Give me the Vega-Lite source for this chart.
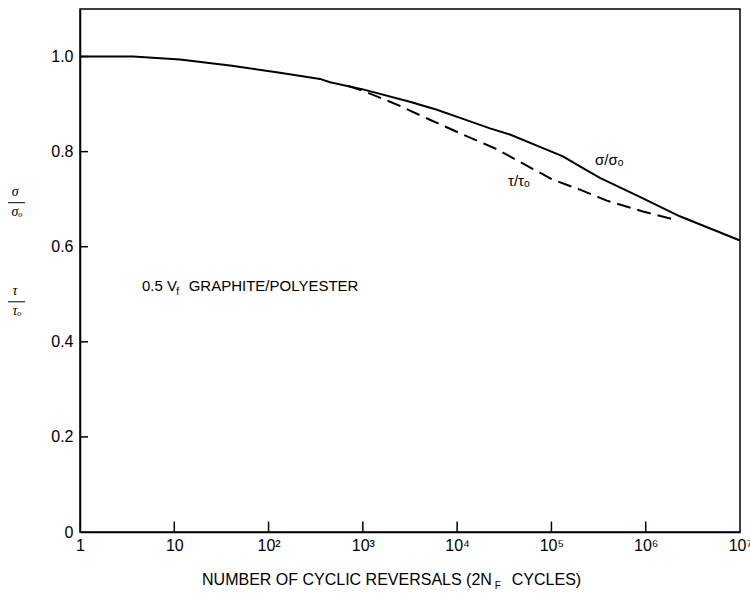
{
  "$schema": "https://vega.github.io/schema/vega-lite/v6.json",
  "width": 660,
  "height": 523,
  "autosize": {"type": "none"},
  "padding": {"left": 80, "top": 9, "right": 10, "bottom": 66},
  "background": "white",
  "config": {
    "view": {"stroke": "black", "strokeWidth": 1.5},
    "font": "Liberation Sans",
    "axis": {
      "grid": false,
      "ticks": false,
      "domainColor": "black",
      "domainWidth": 1.5,
      "labelColor": "black",
      "labelFont": "Liberation Sans",
      "labelFontSize": 16,
      "labelFlush": false,
      "labelOverlap": false,
      "labelBound": false
    }
  },
  "datasets": {
    "curves": [
      {"series": "sigma", "cycles": 1, "ratio": 1.0},
      {"series": "sigma", "cycles": 3.65, "ratio": 1.0},
      {"series": "sigma", "cycles": 11.5, "ratio": 0.994},
      {"series": "sigma", "cycles": 39, "ratio": 0.981},
      {"series": "sigma", "cycles": 132, "ratio": 0.966},
      {"series": "sigma", "cycles": 351, "ratio": 0.953},
      {"series": "sigma", "cycles": 448, "ratio": 0.946},
      {"series": "sigma", "cycles": 1003, "ratio": 0.931},
      {"series": "sigma", "cycles": 3150, "ratio": 0.905},
      {"series": "sigma", "cycles": 6100, "ratio": 0.888},
      {"series": "sigma", "cycles": 11520, "ratio": 0.869},
      {"series": "sigma", "cycles": 22300, "ratio": 0.849},
      {"series": "sigma", "cycles": 36300, "ratio": 0.836},
      {"series": "sigma", "cycles": 75500, "ratio": 0.81},
      {"series": "sigma", "cycles": 132400, "ratio": 0.79},
      {"series": "sigma", "cycles": 200600, "ratio": 0.769},
      {"series": "sigma", "cycles": 326800, "ratio": 0.745},
      {"series": "sigma", "cycles": 867500, "ratio": 0.705},
      {"series": "sigma", "cycles": 2300000, "ratio": 0.664},
      {"series": "sigma", "cycles": 10000000, "ratio": 0.613},
      {"series": "tau", "cycles": 700, "ratio": 0.938},
      {"series": "tau", "cycles": 1003, "ratio": 0.928},
      {"series": "tau", "cycles": 2300, "ratio": 0.899},
      {"series": "tau", "cycles": 5140, "ratio": 0.867},
      {"series": "tau", "cycles": 11520, "ratio": 0.836},
      {"series": "tau", "cycles": 26400, "ratio": 0.805},
      {"series": "tau", "cycles": 59100, "ratio": 0.767},
      {"series": "tau", "cycles": 75500, "ratio": 0.756},
      {"series": "tau", "cycles": 103800, "ratio": 0.741},
      {"series": "tau", "cycles": 200600, "ratio": 0.72},
      {"series": "tau", "cycles": 388000, "ratio": 0.697},
      {"series": "tau", "cycles": 934000, "ratio": 0.674},
      {"series": "tau", "cycles": 2200000, "ratio": 0.655}
    ],
    "notes": [
      {"key": "ann", "cycles": 4.54, "ratio": 0.518, "text": "0.5 V"},
      {"key": "ann", "cycles": 14.2, "ratio": 0.518, "text": "GRAPHITE/POLYESTER"},
      {"key": "ann", "cycles": 290000, "ratio": 0.783, "text": "σ/σₒ"},
      {"key": "ann", "cycles": 34600, "ratio": 0.739, "text": "τ/τₒ"},
      {"key": "title", "cycles": 19.7, "ratio": -0.101, "text": "NUMBER OF CYCLIC REVERSALS (2N"},
      {"key": "title", "cycles": 38000, "ratio": -0.101, "text": "CYCLES)"},
      {"key": "sub", "cycles": 10.5, "ratio": 0.505, "text": "f"},
      {"key": "sub", "cycles": 25000, "ratio": -0.113, "text": "F"},
      {"key": "frac", "cycles": 0.205, "ratio": 0.716, "text": "σ"},
      {"key": "frac", "cycles": 0.215, "ratio": 0.672, "text": "σₒ"},
      {"key": "frac", "cycles": 0.205, "ratio": 0.507, "text": "τ"},
      {"key": "frac", "cycles": 0.215, "ratio": 0.465, "text": "τₒ"}
    ],
    "bars": [
      {"cycles": 0.1725, "cycles2": 0.261, "ratio": 0.6926},
      {"cycles": 0.1725, "cycles2": 0.261, "ratio": 0.4842}
    ],
    "xticks": [
      {"cycles": 10, "lo": 0, "hi": 0.022},
      {"cycles": 100, "lo": 0, "hi": 0.022},
      {"cycles": 1000, "lo": 0, "hi": 0.022},
      {"cycles": 10000, "lo": 0, "hi": 0.022},
      {"cycles": 100000, "lo": 0, "hi": 0.022},
      {"cycles": 1000000, "lo": 0, "hi": 0.022}
    ],
    "yticks": [
      {"ratio": 0.2, "lo": 1, "hi": 1.216},
      {"ratio": 0.4, "lo": 1, "hi": 1.216},
      {"ratio": 0.6, "lo": 1, "hi": 1.216},
      {"ratio": 0.8, "lo": 1, "hi": 1.216},
      {"ratio": 1.0, "lo": 1, "hi": 1.216}
    ]
  },
  "layer": [
    {
      "data": {"name": "curves"},
      "transform": [{"filter": "datum.series === 'sigma'"}],
      "mark": {"type": "line", "color": "black", "strokeWidth": 2},
      "encoding": {
        "x": {
          "field": "cycles", "type": "quantitative",
          "scale": {"type": "log", "domain": [1, 10000000], "nice": false},
          "axis": {
            "title": null,
            "values": [1, 10, 100, 1000, 10000, 100000, 1000000, 10000000],
            "labelPadding": 5,
            "labelExpr": "datum.value < 5 ? '1' : datum.value < 50 ? '10' : '10' + (datum.value < 500 ? '²' : datum.value < 5000 ? '³' : datum.value < 50000 ? '⁴' : datum.value < 500000 ? '⁵' : datum.value < 5000000 ? '⁶' : '⁷')"
          }
        },
        "y": {
          "field": "ratio", "type": "quantitative",
          "scale": {"domain": [0, 1.1], "nice": false, "zero": false},
          "axis": {
            "title": null,
            "values": [0, 0.2, 0.4, 0.6, 0.8, 1.0],
            "labelPadding": 7,
            "labelExpr": "datum.value == 0 ? '0' : format(datum.value, '.1f')"
          }
        }
      }
    },
    {
      "data": {"name": "curves"},
      "transform": [{"filter": "datum.series === 'tau'"}],
      "mark": {"type": "line", "color": "black", "strokeWidth": 2, "strokeDash": [14, 7]},
      "encoding": {
        "x": {"field": "cycles", "type": "quantitative", "scale": {"type": "log", "domain": [1, 10000000], "nice": false}},
        "y": {"field": "ratio", "type": "quantitative", "scale": {"domain": [0, 1.1], "nice": false, "zero": false}}
      }
    },
    {
      "data": {"name": "xticks"},
      "mark": {"type": "rule", "color": "black", "strokeWidth": 1.5},
      "encoding": {
        "x": {"field": "cycles", "type": "quantitative", "scale": {"type": "log", "domain": [1, 10000000], "nice": false}},
        "y": {"field": "lo", "type": "quantitative", "scale": {"domain": [0, 1.1], "nice": false, "zero": false}},
        "y2": {"field": "hi"}
      }
    },
    {
      "data": {"name": "yticks"},
      "mark": {"type": "rule", "color": "black", "strokeWidth": 1.5},
      "encoding": {
        "x": {"field": "lo", "type": "quantitative", "scale": {"type": "log", "domain": [1, 10000000], "nice": false}},
        "x2": {"field": "hi"},
        "y": {"field": "ratio", "type": "quantitative", "scale": {"domain": [0, 1.1], "nice": false, "zero": false}}
      }
    },
    {
      "data": {"name": "bars"},
      "mark": {"type": "rule", "color": "black", "strokeWidth": 1},
      "encoding": {
        "x": {"field": "cycles", "type": "quantitative", "scale": {"type": "log", "domain": [1, 10000000], "nice": false}},
        "x2": {"field": "cycles2"},
        "y": {"field": "ratio", "type": "quantitative", "scale": {"domain": [0, 1.1], "nice": false, "zero": false}}
      }
    },
    {
      "data": {"name": "notes"},
      "transform": [{"filter": "datum.key === 'frac'"}],
      "mark": {"type": "text", "align": "center", "baseline": "middle", "fontSize": 14, "color": "black", "font": "Liberation Serif", "fontStyle": "italic"},
      "encoding": {
        "x": {"field": "cycles", "type": "quantitative", "scale": {"type": "log", "domain": [1, 10000000], "nice": false}},
        "y": {"field": "ratio", "type": "quantitative", "scale": {"domain": [0, 1.1], "nice": false, "zero": false}},
        "text": {"field": "text"}
      }
    },
    {
      "data": {"name": "notes"},
      "transform": [{"filter": "datum.key === 'ann'"}],
      "mark": {"type": "text", "align": "left", "baseline": "middle", "fontSize": 15, "color": "black", "font": "Liberation Sans"},
      "encoding": {
        "x": {"field": "cycles", "type": "quantitative", "scale": {"type": "log", "domain": [1, 10000000], "nice": false}},
        "y": {"field": "ratio", "type": "quantitative", "scale": {"domain": [0, 1.1], "nice": false, "zero": false}},
        "text": {"field": "text"}
      }
    },
    {
      "data": {"name": "notes"},
      "transform": [{"filter": "datum.key === 'title'"}],
      "mark": {"type": "text", "align": "left", "baseline": "middle", "fontSize": 16, "color": "black", "font": "Liberation Sans"},
      "encoding": {
        "x": {"field": "cycles", "type": "quantitative", "scale": {"type": "log", "domain": [1, 10000000], "nice": false}},
        "y": {"field": "ratio", "type": "quantitative", "scale": {"domain": [0, 1.1], "nice": false, "zero": false}},
        "text": {"field": "text"}
      }
    },
    {
      "data": {"name": "notes"},
      "transform": [{"filter": "datum.key === 'sub'"}],
      "mark": {"type": "text", "align": "left", "baseline": "middle", "fontSize": 10, "color": "black", "font": "Liberation Sans"},
      "encoding": {
        "x": {"field": "cycles", "type": "quantitative", "scale": {"type": "log", "domain": [1, 10000000], "nice": false}},
        "y": {"field": "ratio", "type": "quantitative", "scale": {"domain": [0, 1.1], "nice": false, "zero": false}},
        "text": {"field": "text"}
      }
    }
  ]
}
